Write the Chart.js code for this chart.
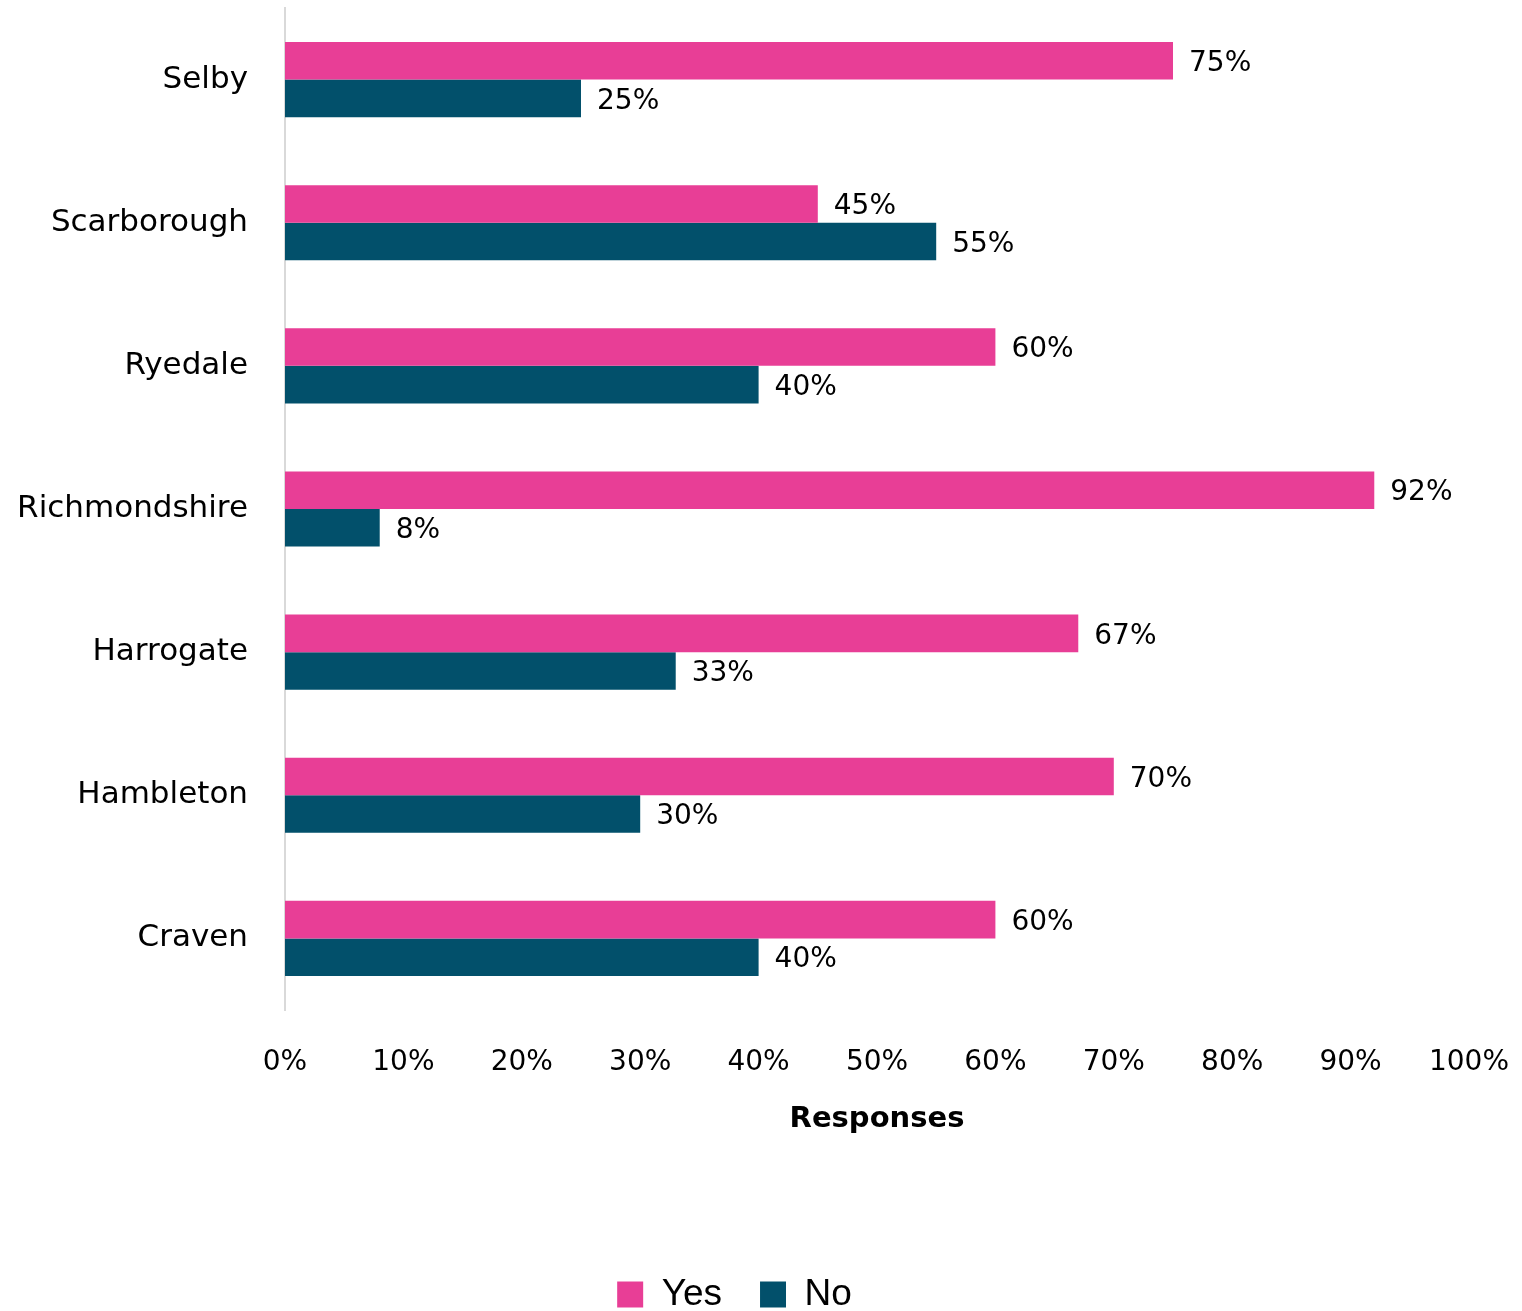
<!DOCTYPE html>
<html>
<head>
<meta charset="utf-8">
<title>Responses by district</title>
<script src="https://cdn.jsdelivr.net/npm/chart.js@4/dist/chart.umd.min.js"></script>
<style>
  html, body { margin: 0; padding: 0; background: #fff; }
  #wrap { width: 1522px; height: 1311px; }
</style>
</head>
<body>
<div id="wrap"><canvas id="responses" width="1522" height="1311"></canvas></div>
<script>
// districts, top to bottom
var districts = ["Selby", "Scarborough", "Ryedale", "Richmondshire", "Harrogate", "Hambleton", "Craven"];

// percentage answering yes / no
var yesValues = [75, 45, 60, 92, 67, 70, 60];
var noValues = [25, 55, 40, 8, 33, 30, 40];

var xTicks = [0, 10, 20, 30, 40, 50, 60, 70, 80, 90, 100];

var fontFamily = "'DejaVu Sans', sans-serif";

// writes the value at the end of each bar
var barValues = {
    id: 'barValues',
    afterDatasetsDraw: function (chart) {
        var ctx = chart.ctx;
        ctx.save();
        ctx.font = '28px ' + fontFamily;
        ctx.fillStyle = '#000';
        ctx.textAlign = 'left';
        ctx.textBaseline = 'middle';
        chart.data.datasets.forEach(function (ds, i) {
            chart.getDatasetMeta(i).data.forEach(function (bar, j) {
                ctx.fillText(ds.data[j] + '%', bar.x + 16, bar.y + 3);
            });
        });
        ctx.restore();
    }
};

// push the legend row down towards the bottom edge, box runs to the canvas bottom
var legendOffset = {
    id: 'legendOffset',
    afterLayout: function (chart) {
        var lg = chart.legend;
        lg.top = 1238;
        lg.bottom = chart.height;
        lg.height = lg.bottom - lg.top;
    }
};

var ctx = document.getElementById('responses').getContext('2d');
var chart = new Chart(ctx, {
    type: 'bar',
    data: {
        labels: districts,
        datasets: [{
            label: 'Yes',
            data: yesValues,
            backgroundColor: '#E83E96',
            categoryPercentage: 0.525,
            barPercentage: 1
        }, {
            label: 'No',
            data: noValues,
            backgroundColor: '#02506B',
            categoryPercentage: 0.525,
            barPercentage: 1
        }]
    },
    options: {
        indexAxis: 'y',
        responsive: false,
        animation: false,
        layout: {
            padding: { top: 8, right: 53, left: 0, bottom: 0 }
        },
        scales: {
            x: {
                min: 0,
                max: 100,
                afterBuildTicks: function (scale) {
                    scale.ticks = xTicks.map(function (v) { return { value: v }; });
                },
                afterFit: function (scale) {
                    scale.height = 241;
                    scale.paddingLeft = 0;
                    scale.paddingRight = 0;
                },
                grid: { display: false, drawTicks: false },
                border: { display: false },
                ticks: {
                    padding: 36,
                    maxRotation: 0,
                    color: '#000',
                    font: { family: fontFamily, size: 28 },
                    callback: function (v) { return v + '%'; }
                },
                title: {
                    display: true,
                    text: 'Responses',
                    color: '#000',
                    font: { family: fontFamily, size: 29, weight: 'bold' },
                    padding: { top: 20, bottom: 114 }
                }
            },
            y: {
                afterFit: function (scale) {
                    scale.width = 285;
                    scale.paddingTop = 0;
                    scale.paddingBottom = 0;
                },
                grid: { display: false, drawTicks: false },
                border: { display: true, color: '#D9D9D9', width: 2 },
                ticks: {
                    padding: 37,
                    color: '#000',
                    font: { family: fontFamily, size: 31 }
                }
            }
        },
        plugins: {
            legend: {
                position: 'bottom',
                maxHeight: 60,
                labels: {
                    boxWidth: 26,
                    boxHeight: 26,
                    padding: 38,
                    color: '#000',
                    font: { family: "'Liberation Sans', Arial, sans-serif", size: 37 }
                }
            },
            tooltip: { enabled: false }
        }
    },
    plugins: [barValues, legendOffset]
});
</script>
</body>
</html>
